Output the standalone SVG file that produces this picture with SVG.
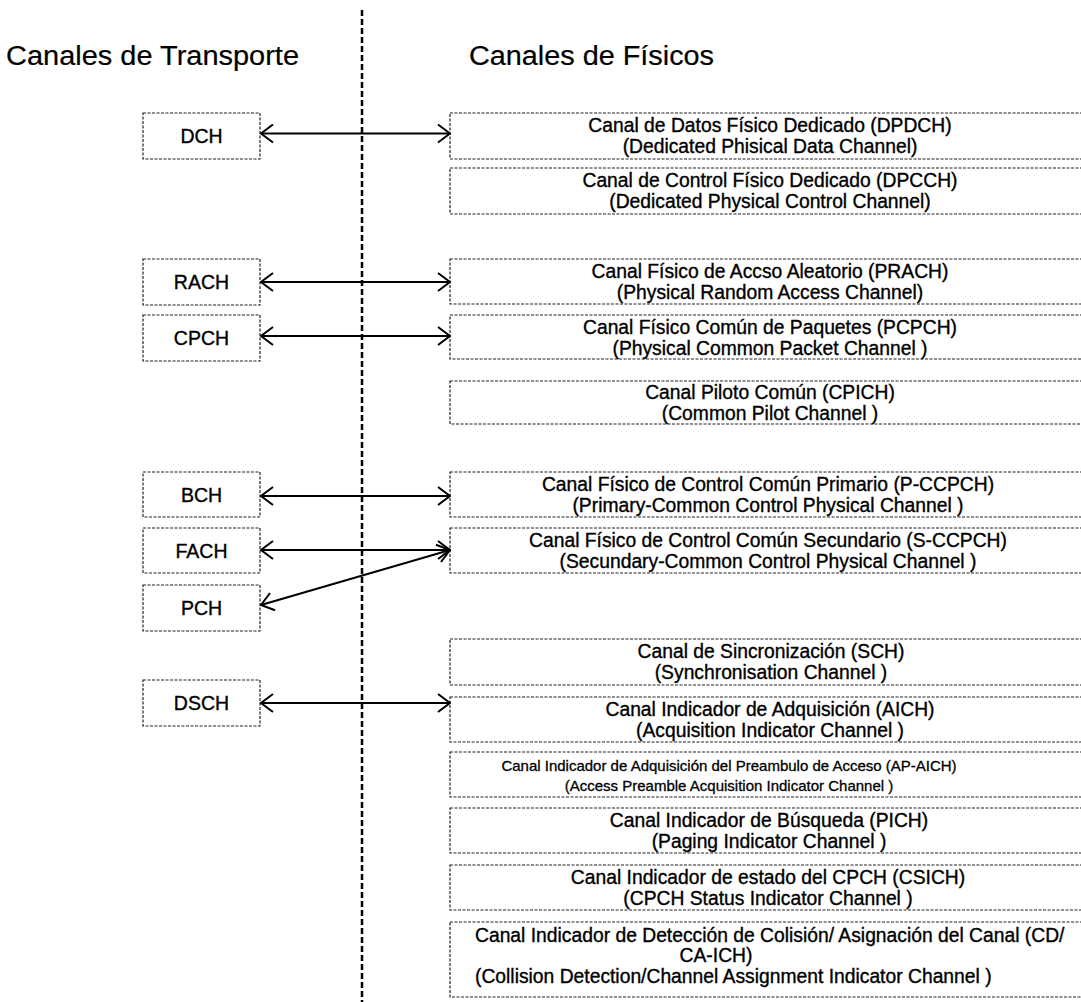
<svg xmlns="http://www.w3.org/2000/svg" width="1081" height="1002" viewBox="0 0 1081 1002">
  <defs>
    <marker id="chev" viewBox="-14 -10 15 20" refX="0" refY="0" markerWidth="15" markerHeight="20" markerUnits="userSpaceOnUse" orient="auto-start-reverse">
      <path d="M-12,-9 L0,0 L-12,9" fill="none" stroke="#000" stroke-width="2"/>
    </marker>
    <style>
      text { font-family: "Liberation Sans", Arial, sans-serif; fill: #000; stroke: #000; stroke-width: 0.35px; }
      .title { font-size: 27px; stroke-width: 0.2px; }
      .lbl { font-size: 19.5px; text-anchor: middle; dominant-baseline: central; }
      .ch { font-size: 19.3px; text-anchor: middle; dominant-baseline: central; }
      .left { text-anchor: start; }
      .sm { font-size: 15px; text-anchor: middle; dominant-baseline: central; stroke-width: 0.3px; }
      .box { fill: #fff; stroke: #222; stroke-width: 1.2; stroke-dasharray: 3 1.5; }
      .divider { stroke: #000; stroke-width: 2.5; stroke-dasharray: 6 3; fill: none; }
      .conn { stroke: #000; stroke-width: 2; fill: none; marker-start: url(#chev); marker-end: url(#chev); }
    </style>
  </defs>

  <rect width="1081" height="1002" fill="#fff"/>

  <!-- column divider and headings -->
  <line class="divider" x1="362" y1="10" x2="362" y2="1002"/>
  <text class="title" x="6" y="65" textLength="293" lengthAdjust="spacingAndGlyphs">Canales de Transporte</text>
  <text class="title" x="469" y="65" textLength="245" lengthAdjust="spacingAndGlyphs">Canales de Físicos</text>

  <!-- transport channels -->
  <g id="dch"><rect class="box" x="143" y="113" width="117" height="46"/><text class="lbl" x="201.5" y="136">DCH</text></g>
  <g id="rach"><rect class="box" x="143" y="259" width="117" height="46"/><text class="lbl" x="201.5" y="282">RACH</text></g>
  <g id="cpch"><rect class="box" x="143" y="315" width="117" height="46"/><text class="lbl" x="201.5" y="338">CPCH</text></g>
  <g id="bch"><rect class="box" x="143" y="472" width="117" height="45"/><text class="lbl" x="201.5" y="494.5">BCH</text></g>
  <g id="fach"><rect class="box" x="143" y="528" width="117" height="45"/><text class="lbl" x="201.5" y="550.5">FACH</text></g>
  <g id="pch"><rect class="box" x="143" y="585" width="117" height="46"/><text class="lbl" x="201.5" y="608">PCH</text></g>
  <g id="dsch"><rect class="box" x="143" y="680" width="117" height="46"/><text class="lbl" x="201.5" y="703">DSCH</text></g>

  <!-- physical channels -->
  <g id="dpdch"><rect class="box" x="450" y="113" width="640" height="46"/>
    <text class="ch" x="770" y="125">Canal de Datos Físico Dedicado (DPDCH)</text>
    <text class="ch" x="770" y="146">(Dedicated Phisical Data Channel)</text></g>
  <g id="dpcch"><rect class="box" x="450" y="168" width="640" height="46"/>
    <text class="ch" x="770" y="180">Canal de Control Físico Dedicado (DPCCH)</text>
    <text class="ch" x="770" y="201">(Dedicated Physical Control Channel)</text></g>
  <g id="prach"><rect class="box" x="450" y="259" width="640" height="45"/>
    <text class="ch" x="770" y="271">Canal Físico de Accso Aleatorio (PRACH)</text>
    <text class="ch" x="770" y="292">(Physical Random Access Channel)</text></g>
  <g id="pcpch"><rect class="box" x="450" y="315" width="640" height="44"/>
    <text class="ch" x="770" y="327">Canal Físico Común de Paquetes (PCPCH)</text>
    <text class="ch" x="770" y="348">(Physical Common Packet Channel )</text></g>
  <g id="cpich"><rect class="box" x="450" y="381" width="640" height="43"/>
    <text class="ch" x="770" y="392">Canal Piloto Común (CPICH)</text>
    <text class="ch" x="770" y="413">(Common Pilot Channel )</text></g>
  <g id="pccpch"><rect class="box" x="450" y="472" width="640" height="45"/>
    <text class="ch" x="768" y="484">Canal Físico de Control Común Primario (P-CCPCH)</text>
    <text class="ch" x="768" y="505">(Primary-Common Control Physical Channel )</text></g>
  <g id="sccpch"><rect class="box" x="450" y="528" width="640" height="45"/>
    <text class="ch" x="768" y="540">Canal Físico de Control Común Secundario (S-CCPCH)</text>
    <text class="ch" x="768" y="561">(Secundary-Common Control Physical Channel )</text></g>
  <g id="sch"><rect class="box" x="450" y="639" width="640" height="46"/>
    <text class="ch" x="771" y="651">Canal de Sincronización (SCH)</text>
    <text class="ch" x="771" y="672">(Synchronisation Channel )</text></g>
  <g id="aich"><rect class="box" x="450" y="697" width="640" height="45"/>
    <text class="ch" x="770" y="709">Canal Indicador de Adquisición (AICH)</text>
    <text class="ch" x="770" y="730">(Acquisition Indicator Channel )</text></g>
  <g id="apaich"><rect class="box" x="450" y="752" width="640" height="45"/>
    <text class="sm" x="729" y="765">Canal Indicador de Adquisición del Preambulo de Acceso (AP-AICH)</text>
    <text class="sm" x="729" y="785">(Access Preamble Acquisition Indicator Channel )</text></g>
  <g id="pich"><rect class="box" x="450" y="808" width="640" height="45"/>
    <text class="ch" x="769" y="820">Canal Indicador de Búsqueda (PICH)</text>
    <text class="ch" x="769" y="841">(Paging Indicator Channel )</text></g>
  <g id="csich"><rect class="box" x="450" y="865" width="640" height="45"/>
    <text class="ch" x="768" y="877">Canal Indicador de estado del CPCH (CSICH)</text>
    <text class="ch" x="768" y="898">(CPCH Status Indicator Channel )</text></g>
  <g id="cdcaich"><rect class="box" x="450" y="922" width="640" height="75"/>
    <text class="ch left" x="475" y="935">Canal Indicador de Detección de Colisión/ Asignación del Canal  (CD/</text>
    <text class="ch" x="716" y="955">CA-ICH)</text>
    <text class="ch left" x="475" y="976">(Collision Detection/Channel Assignment Indicator Channel )</text></g>

  <!-- connectors -->
  <g id="connectors">
    <line class="conn" x1="261" y1="133.5" x2="450" y2="133.5"/>
    <line class="conn" x1="261" y1="282" x2="450" y2="282"/>
    <line class="conn" x1="261" y1="336" x2="450" y2="336"/>
    <line class="conn" x1="261" y1="496" x2="450" y2="496"/>
    <line class="conn" x1="261" y1="550" x2="450" y2="550"/>
    <line class="conn" x1="261" y1="605" x2="450" y2="550"/>
    <line class="conn" x1="261" y1="703" x2="450" y2="703"/>
  </g>
</svg>
